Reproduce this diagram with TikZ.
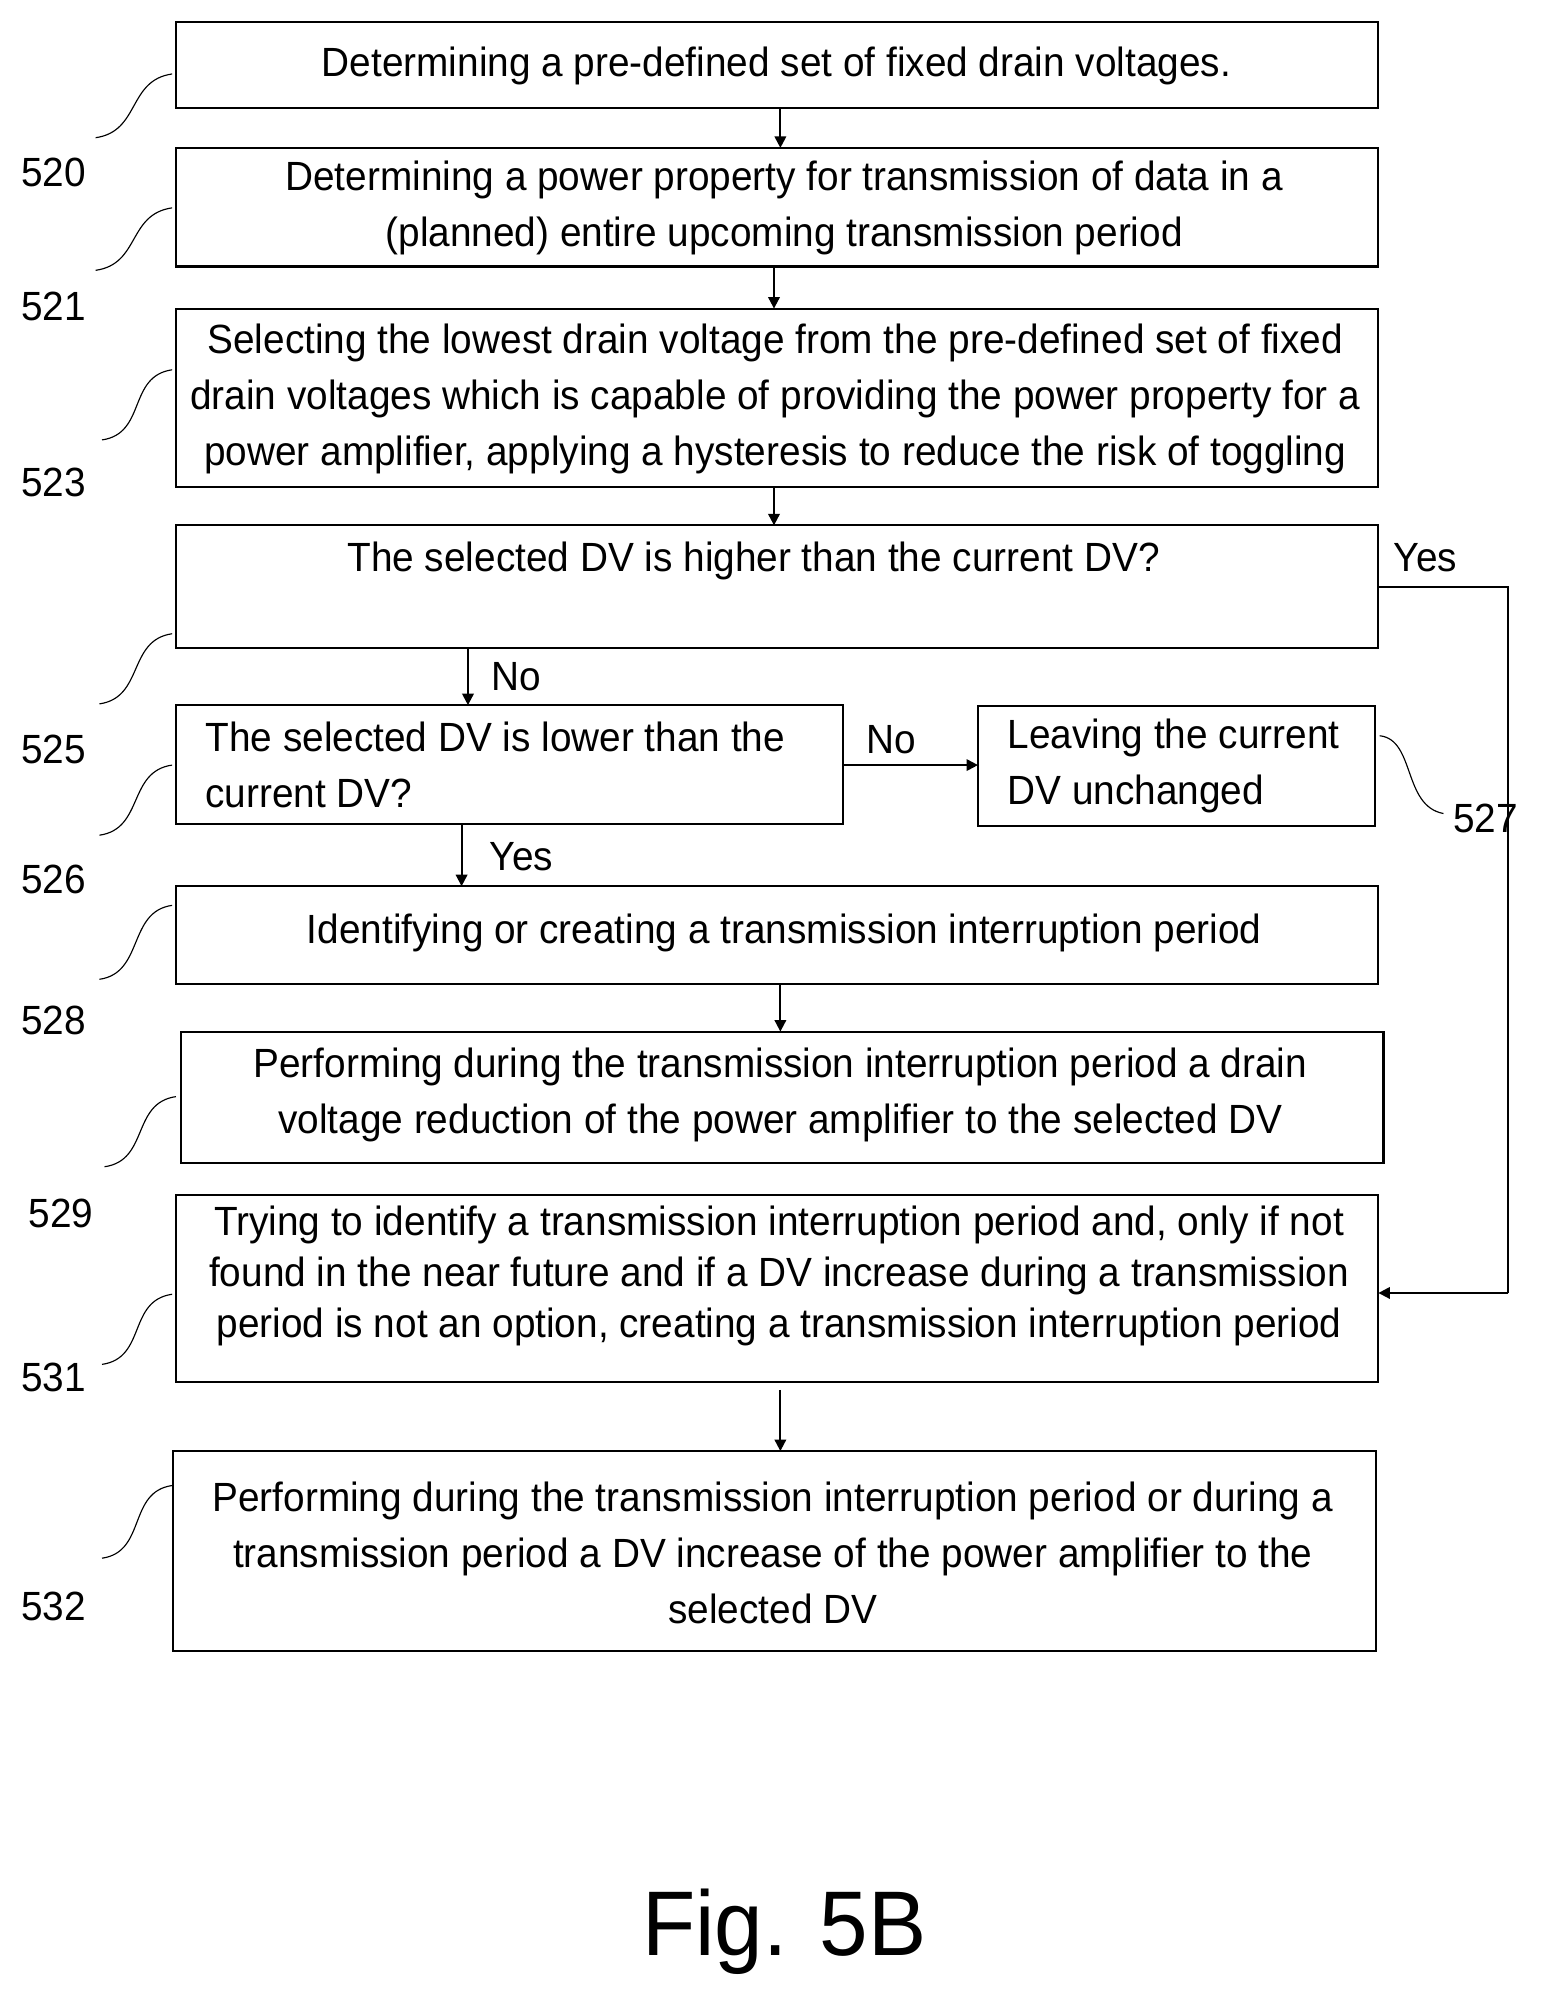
\documentclass[tikz,border=0pt]{standalone}
\usepackage{fontspec}
\setmainfont{Liberation Sans}[FakeStretch=0.95]
\usetikzlibrary{arrows.meta}
\begin{document}
\begin{tikzpicture}[x=1pt,y=-1pt,
 txt/.style={font=\fontsize{32}{44}\selectfont,align=center,inner sep=0},
 lbl/.style={font=\fontsize{32}{36}\selectfont},
 arr/.style={line width=1.6pt,-{Triangle[length=9pt,width=9pt]}},
 lead/.style={line width=0.9pt}]
\useasboundingbox (0,0) rectangle (1225,1563);
\draw[line width=1.6pt] (138,17) rectangle (1081,85) node[midway] (b520) {};
\draw[line width=1.6pt] (138,116) rectangle (1081,209) node[midway] (b521) {};
\draw[line width=1.6pt] (138,242) rectangle (1081,382) node[midway] (b523) {};
\draw[line width=1.6pt] (138,412) rectangle (1081,508) node[midway] (b525) {};
\draw[line width=1.6pt] (138,553) rectangle (661,646) node[midway] (b526) {};
\draw[line width=1.6pt] (767,554) rectangle (1078,648) node[midway] (b527) {};
\draw[line width=1.6pt] (138,695) rectangle (1081,772) node[midway] (b528) {};
\draw[line width=1.6pt] (142,809) rectangle (1085,912) node[midway] (b529) {};
\draw[line width=1.6pt] (138,937) rectangle (1081,1084) node[midway] (b531) {};
\draw[line width=1.6pt] (136,1138) rectangle (1079,1295) node[midway] (b532) {};

\node[txt] (t520) at (609,52) {Determining a pre-defined set of fixed drain voltages.};
\node[txt] (t521) at (615,163) {Determining a power property for transmission of data in a\\(planned) entire upcoming transmission period};
\node[txt] (t523) at (608,313) {Selecting the lowest drain voltage from the pre-defined set of fixed\\drain voltages which is capable of providing the power property for a\\power amplifier, applying a hysteresis to reduce the risk of toggling};
\node[txt] (t525) at (591,440) {The selected DV is higher than the current DV?};
\node[txt,align=left,anchor=west] (t526) at (161,600) {The selected DV is lower than the\\current DV?};
\node[txt,align=left,anchor=west] (t527) at (790,601) {Leaving the current\\DV unchanged};
\node[txt] (t528) at (615,732) {Identifying or creating a transmission interruption period};
\node[txt] (t529) at (612,859) {Performing during the transmission interruption period a drain\\voltage reduction of the power amplifier to the selected DV};
\node[txt,font=\fontsize{32}{40}\selectfont] (t531) at (611,1001) {Trying to identify a transmission interruption period and, only if not\\found in the near future and if a DV increase during a transmission\\period is not an option, creating a transmission interruption period};
\node[txt] (t532) at (606,1218) {Performing during the transmission interruption period or during a\\transmission period a DV increase of the power amplifier to the\\selected DV};

\coordinate (a1) at (612,85); \coordinate (a2) at (612,116);
\draw[arr] (a1) -- (a2);
\coordinate (a3) at (607,209); \coordinate (a4) at (607,242);
\draw[arr] (a3) -- (a4);
\coordinate (a5) at (607,382); \coordinate (a6) at (607,412);
\draw[arr] (a5) -- (a6);
\coordinate (a7) at (367,508); \coordinate (a8) at (367,553);
\draw[arr] (a7) -- (a8);
\node[txt] (no1) at (405,531) {No};
\coordinate (a9) at (362,646); \coordinate (a10) at (362,695);
\draw[arr] (a9) -- (a10);
\node[txt] (yes1) at (409,672) {Yes};
\coordinate (a11) at (661,600); \coordinate (a12) at (767,600);
\draw[arr] (a11) -- (a12);
\node[txt] (no2) at (699,580) {No};
\coordinate (a13) at (612,772); \coordinate (a14) at (612,809);
\draw[arr] (a13) -- (a14);
\coordinate (a15) at (612,1090); \coordinate (a16) at (612,1138);
\draw[arr] (a15) -- (a16);
\coordinate (y1) at (1081,460); \coordinate (y2) at (1183,460);
\coordinate (y3) at (1183,1014); \coordinate (y4) at (1081,1014);
\draw[line width=1.6pt] (y1) -- (y2) -- (y3);
\draw[arr] (y3) -- (y4);
\node[txt] (yes2) at (1118,437) {Yes};

\node[lbl] (l520) at (42,135) {520};
\node[lbl] (l521) at (42,240) {521};
\node[lbl] (l523) at (42,378) {523};
\node[lbl] (l525) at (42,588) {525};
\node[lbl] (l526) at (42,690) {526};
\node[lbl] (l528) at (42,800) {528};
\node[lbl] (l529) at (48,952) {529};
\node[lbl] (l531) at (42,1080) {531};
\node[lbl] (l532) at (42,1260) {532};
\node[lbl] (l527) at (1165,642) {527};
\foreach \a/\b/\c/\d in {75/108/135/58, 75/212/135/163, 80/345/135/290, 78/552/135/497, 78/655/135/600, 78/768/135/710, 82/915/138/860, 80/1070/135/1015, 80/1222/135/1165}{
 \draw[lead] (\a,\b) .. controls (\a+35,\b-5) and (\c-35,\d+5) .. (\c,\d);
}
\draw[lead] (1082,577) .. controls (1110,580) and (1100,632) .. (1132,638);
\node[font=\fontsize{72}{80}\selectfont] (fig) at (615,1515) {Fig. 5B};
\end{tikzpicture}
\end{document}
